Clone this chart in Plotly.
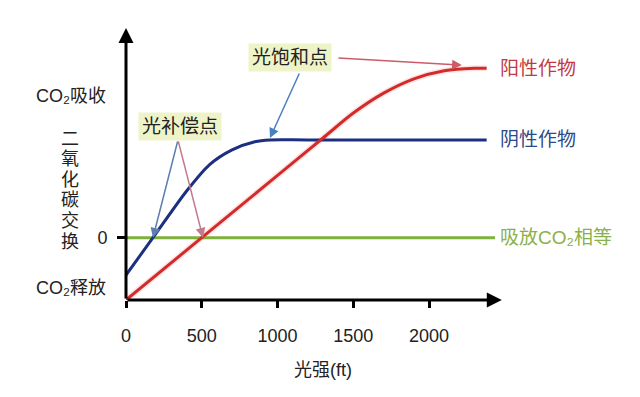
import plotly.graph_objects as go

# ---- data ----
x_tick_vals = [0, 500, 1000, 1500, 2000]
x_tick_text = ["0", "500", "1000", "1500", "2000"]

shade_x = [0, 178, 400, 550, 700, 850, 950, 1200, 2380]
shade_y = [-0.6, 0, 0.75, 1.17, 1.41, 1.54, 1.57, 1.57, 1.57]

sun_x = [0, 500, 1000, 1300, 1500, 1700, 1900, 2100, 2300, 2380]
sun_y = [-1.0, 0, 1.0, 1.6, 2.0, 2.32, 2.55, 2.68, 2.72, 2.72]

equal_x = [0, 2435]
equal_y = [0, 0]

series_names = ["阳性作物", "阴性作物", "吸放CO₂相等"]
y_title_chars = ["二", "氧", "化", "碳", "交", "换"]
y_labels = ["CO₂吸收", "CO₂释放"]
y_label_vals = [2.27, -0.81]

FONT = "Liberation Sans, Arial, Noto Sans CJK SC, sans-serif"
RED = "#d42a2a"
BLUE = "#1c2f80"
GREEN = "#80b03c"

fig = go.Figure()
# soft halo under red line
fig.add_trace(go.Scatter(x=sun_x, y=sun_y, mode="lines",
                         line=dict(color="rgba(230,80,80,0.15)", width=6, shape="spline", smoothing=0.8),
                         hoverinfo="skip", showlegend=False))
fig.add_trace(go.Scatter(x=equal_x, y=equal_y, mode="lines",
                         line=dict(color=GREEN, width=3), showlegend=False))
fig.add_trace(go.Scatter(x=shade_x, y=shade_y, mode="lines",
                         line=dict(color=BLUE, width=3, shape="spline", smoothing=0.8), showlegend=False))
fig.add_trace(go.Scatter(x=sun_x, y=sun_y, mode="lines",
                         line=dict(color=RED, width=3, shape="spline", smoothing=0.8), showlegend=False))

ann = []
# axes with arrows
ann.append(dict(x=2480, y=-1, ax=0, ay=-1, xref="x", yref="y", axref="x", ayref="y",
                text="", showarrow=True, arrowhead=2, arrowsize=1.0, arrowwidth=3, arrowcolor="black", standoff=0))
ann.append(dict(x=0, y=3.366, ax=0, ay=-1, xref="x", yref="y", axref="x", ayref="y",
                text="", showarrow=True, arrowhead=2, arrowsize=1.0, arrowwidth=3, arrowcolor="black", standoff=0))

# series labels
label_colors = ["#c03a44", "#2c4a88", "#8ab04a"]
label_y = [sun_y[-1], shade_y[-1], equal_y[-1]]
for name, col, yy in zip(series_names, label_colors, label_y):
    ann.append(dict(x=2455, y=yy, xref="x", yref="y", text=name, showarrow=False,
                    xanchor="left", yanchor="middle", font=dict(size=19, color=col, family=FONT)))

# callout boxes
box_bg = "#eef4c8"
ann.append(dict(x=1082, y=2.885, xref="x", yref="y", text="光饱和点", showarrow=False,
                bgcolor=box_bg, borderpad=3, font=dict(size=19, color="#222", family=FONT)))
ann.append(dict(x=356, y=1.777, xref="x", yref="y", text="光补偿点", showarrow=False,
                bgcolor=box_bg, borderpad=3, font=dict(size=19, color="#222", family=FONT)))

# callout arrows (tail -> head)
arrows = [
    ((1148, 2.66), (950, 1.60), "#4a7fc0"),
    ((1392, 2.885), (2216, 2.77), "#cc5c68"),
    ((343, 1.568), (178, 0.0), "#5a7fb0"),
    ((343, 1.568), (508, 0.0), "#c47a8e"),
]
for (tx, ty), (hx, hy), col in arrows:
    ann.append(dict(x=hx, y=hy, ax=tx, ay=ty, xref="x", yref="y", axref="x", ayref="y",
                    text="", showarrow=True, arrowhead=2, arrowsize=1.3, arrowwidth=1.5,
                    arrowcolor=col, standoff=0))

# y side labels
for t, v in zip(y_labels, y_label_vals):
    ann.append(dict(x=-0.045, y=v, xref="paper", yref="y", text=t, showarrow=False,
                    xanchor="right", yanchor="middle", font=dict(size=18, color="#222", family=FONT)))
# vertical y title
for i, ch in enumerate(y_title_chars):
    py = 139 + 20.5 * i
    ann.append(dict(x=-0.142, y=(237.7 - py) / 62.3, xref="paper", yref="y", text=ch, showarrow=False,
                    xanchor="center", yanchor="middle", font=dict(size=18, color="#222", family=FONT)))
# x title
ann.append(dict(x=0.5, y=-0.25, xref="paper", yref="paper", text="光强(ft)", showarrow=False,
                xanchor="center", yanchor="middle", font=dict(size=18, color="#222", family=FONT)))

fig.update_layout(
    width=632, height=389,
    margin=dict(l=118, r=120, t=12, b=97),
    paper_bgcolor="white", plot_bgcolor="white",
    showlegend=False,
    annotations=ann,
    xaxis=dict(range=[0, 2600], showgrid=False, zeroline=False, showline=False,
               tickvals=x_tick_vals, ticktext=x_tick_text, ticks="outside", ticklen=7, tickwidth=2.5,
               tickcolor="black", tickfont=dict(size=18, color="#222", family=FONT), ticklabelstandoff=12),
    yaxis=dict(range=[-1, 3.494], showgrid=False, zeroline=False, showline=False,
               tickvals=[0], ticktext=["0"], ticks="outside", ticklen=8, tickwidth=2.5,
               tickcolor="black", tickfont=dict(size=18, color="#222", family=FONT), ticklabelstandoff=6),
)

fig.write_html("out.html")
